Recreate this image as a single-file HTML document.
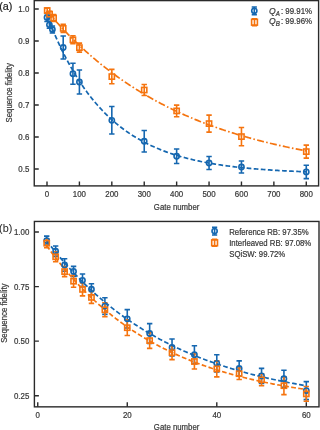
<!DOCTYPE html>
<html><head><meta charset="utf-8"><style>
html,body{margin:0;padding:0;background:#fff;width:320px;height:430px;overflow:hidden;}
svg{display:block;will-change:transform;font-family:"Liberation Sans",sans-serif;}
</style></head><body>
<svg width="320" height="430" viewBox="0 0 320 430">
<rect width="320" height="430" fill="#fff"/>
<rect x="34.25" y="0.60" width="284.35" height="185.30" fill="none" stroke="#2a2a2a" stroke-width="1.4"/>
<path d="M47.00,185.90V181.40M79.41,185.90V181.40M111.82,185.90V181.40M144.23,185.90V181.40M176.64,185.90V181.40M209.05,185.90V181.40M241.46,185.90V181.40M273.87,185.90V181.40M306.28,185.90V181.40M34.25,9.00H38.75M34.25,41.00H38.75M34.25,73.00H38.75M34.25,105.00H38.75M34.25,137.00H38.75M34.25,169.00H38.75" stroke="#2a2a2a" stroke-width="1.4" fill="none"/>
<path d="M47.00,13.50V21.50M44.30,13.50H49.70M44.30,21.50H49.70" stroke="#1567b0" stroke-width="1.6" fill="none"/>
<path d="M49.40,21.30V28.30M46.70,21.30H52.10M46.70,28.30H52.10" stroke="#1567b0" stroke-width="1.6" fill="none"/>
<path d="M52.40,26.00V33.00M49.70,26.00H55.10M49.70,33.00H55.10" stroke="#1567b0" stroke-width="1.6" fill="none"/>
<path d="M63.20,36.00V59.00M60.50,36.00H65.91M60.50,59.00H65.91" stroke="#1567b0" stroke-width="1.6" fill="none"/>
<path d="M72.93,63.25V84.25M70.23,63.25H75.63M70.23,84.25H75.63" stroke="#1567b0" stroke-width="1.6" fill="none"/>
<path d="M79.41,70.00V94.00M76.71,70.00H82.11M76.71,94.00H82.11" stroke="#1567b0" stroke-width="1.6" fill="none"/>
<path d="M111.82,106.55V134.05M109.12,106.55H114.52M109.12,134.05H114.52" stroke="#1567b0" stroke-width="1.6" fill="none"/>
<path d="M144.23,130.45V152.05M141.53,130.45H146.93M141.53,152.05H146.93" stroke="#1567b0" stroke-width="1.6" fill="none"/>
<path d="M176.64,148.95V163.55M173.94,148.95H179.34M173.94,163.55H179.34" stroke="#1567b0" stroke-width="1.6" fill="none"/>
<path d="M209.05,156.50V169.50M206.35,156.50H211.75M206.35,169.50H211.75" stroke="#1567b0" stroke-width="1.6" fill="none"/>
<path d="M241.46,161.00V173.00M238.76,161.00H244.16M238.76,173.00H244.16" stroke="#1567b0" stroke-width="1.6" fill="none"/>
<path d="M306.28,165.20V178.60M303.58,165.20H308.98M303.58,178.60H308.98" stroke="#1567b0" stroke-width="1.6" fill="none"/>
<path d="M47.20,8.00V13.00M44.50,8.00H49.90M44.50,13.00H49.90" stroke="#f5740f" stroke-width="1.6" fill="none"/>
<path d="M49.60,11.20V17.20M46.90,11.20H52.30M46.90,17.20H52.30" stroke="#f5740f" stroke-width="1.6" fill="none"/>
<path d="M53.60,14.50V21.50M50.90,14.50H56.30M50.90,21.50H56.30" stroke="#f5740f" stroke-width="1.6" fill="none"/>
<path d="M63.20,24.40V32.40M60.50,24.40H65.91M60.50,32.40H65.91" stroke="#f5740f" stroke-width="1.6" fill="none"/>
<path d="M72.93,35.80V43.80M70.23,35.80H75.63M70.23,43.80H75.63" stroke="#f5740f" stroke-width="1.6" fill="none"/>
<path d="M79.41,43.10V52.10M76.71,43.10H82.11M76.71,52.10H82.11" stroke="#f5740f" stroke-width="1.6" fill="none"/>
<path d="M111.82,69.40V83.80M109.12,69.40H114.52M109.12,83.80H114.52" stroke="#f5740f" stroke-width="1.6" fill="none"/>
<path d="M144.23,84.50V95.50M141.53,84.50H146.93M141.53,95.50H146.93" stroke="#f5740f" stroke-width="1.6" fill="none"/>
<path d="M176.64,105.10V116.70M173.94,105.10H179.34M173.94,116.70H179.34" stroke="#f5740f" stroke-width="1.6" fill="none"/>
<path d="M209.05,115.10V132.10M206.35,115.10H211.75M206.35,132.10H211.75" stroke="#f5740f" stroke-width="1.6" fill="none"/>
<path d="M241.46,127.50V145.70M238.76,127.50H244.16M238.76,145.70H244.16" stroke="#f5740f" stroke-width="1.6" fill="none"/>
<path d="M306.28,145.10V158.10M303.58,145.10H308.98M303.58,158.10H308.98" stroke="#f5740f" stroke-width="1.6" fill="none"/>
<path d="M47.00,15.40 L48.30,18.78 L49.61,22.09 L50.91,25.33 L52.21,28.49 L53.51,31.59 L54.82,34.63 L56.12,37.59 L57.42,40.50 L58.73,43.34 L60.03,46.13 L61.33,48.85 L62.63,51.52 L63.94,54.13 L65.24,56.68 L66.54,59.18 L67.85,61.62 L69.15,64.02 L70.45,66.36 L71.76,68.65 L73.06,70.90 L74.36,73.09 L75.66,75.24 L76.97,77.35 L78.27,79.40 L79.57,81.42 L80.88,83.39 L82.18,85.32 L83.48,87.21 L84.78,89.06 L86.09,90.87 L87.39,92.64 L88.69,94.37 L90.00,96.07 L91.30,97.73 L92.60,99.35 L93.90,100.94 L95.21,102.50 L96.51,104.02 L97.81,105.51 L99.12,106.97 L100.42,108.39 L101.72,109.79 L103.03,111.16 L104.33,112.50 L105.63,113.81 L106.93,115.09 L108.24,116.34 L109.54,117.57 L110.84,118.77 L112.15,119.95 L113.45,121.10 L114.75,122.23 L116.05,123.33 L117.36,124.41 L118.66,125.46 L119.96,126.50 L121.27,127.51 L122.57,128.50 L123.87,129.47 L125.17,130.41 L126.48,131.34 L127.78,132.25 L129.08,133.14 L130.39,134.01 L131.69,134.86 L132.99,135.69 L134.30,136.51 L135.60,137.31 L136.90,138.09 L138.20,138.85 L139.51,139.60 L140.81,140.33 L142.11,141.05 L143.42,141.75 L144.72,142.44 L146.02,143.11 L147.32,143.77 L148.63,144.41 L149.93,145.04 L151.23,145.65 L152.54,146.26 L153.84,146.85 L155.14,147.43 L156.44,147.99 L157.75,148.54 L159.05,149.09 L160.35,149.62 L161.66,150.13 L162.96,150.64 L164.26,151.14 L165.57,151.63 L166.87,152.10 L168.17,152.57 L169.47,153.02 L170.78,153.47 L172.08,153.91 L173.38,154.33 L174.69,154.75 L175.99,155.16 L177.29,155.56 L178.59,155.95 L179.90,156.34 L181.20,156.71 L182.50,157.08 L183.81,157.44 L185.11,157.79 L186.41,158.14 L187.71,158.47 L189.02,158.80 L190.32,159.13 L191.62,159.44 L192.93,159.75 L194.23,160.05 L195.53,160.35 L196.84,160.64 L198.14,160.92 L199.44,161.20 L200.74,161.47 L202.05,161.74 L203.35,162.00 L204.65,162.26 L205.96,162.51 L207.26,162.75 L208.56,162.99 L209.86,163.22 L211.17,163.45 L212.47,163.67 L213.77,163.89 L215.08,164.11 L216.38,164.32 L217.68,164.52 L218.98,164.72 L220.29,164.92 L221.59,165.11 L222.89,165.30 L224.20,165.49 L225.50,165.67 L226.80,165.84 L228.11,166.02 L229.41,166.19 L230.71,166.35 L232.01,166.51 L233.32,166.67 L234.62,166.83 L235.92,166.98 L237.23,167.13 L238.53,167.27 L239.83,167.42 L241.13,167.56 L242.44,167.69 L243.74,167.83 L245.04,167.96 L246.35,168.09 L247.65,168.21 L248.95,168.33 L250.25,168.45 L251.56,168.57 L252.86,168.69 L254.16,168.80 L255.47,168.91 L256.77,169.02 L258.07,169.12 L259.38,169.22 L260.68,169.32 L261.98,169.42 L263.28,169.52 L264.59,169.61 L265.89,169.71 L267.19,169.80 L268.50,169.89 L269.80,169.97 L271.10,170.06 L272.40,170.14 L273.71,170.22 L275.01,170.30 L276.31,170.38 L277.62,170.46 L278.92,170.53 L280.22,170.60 L281.52,170.68 L282.83,170.75 L284.13,170.81 L285.43,170.88 L286.74,170.95 L288.04,171.01 L289.34,171.07 L290.65,171.14 L291.95,171.20 L293.25,171.25 L294.55,171.31 L295.86,171.37 L297.16,171.42 L298.46,171.48 L299.77,171.53 L301.07,171.58 L302.37,171.63 L303.67,171.68 L304.98,171.73 L306.28,171.78" stroke="#1567b0" stroke-width="1.7" fill="none" stroke-dasharray="4.7,2.4"/>
<path d="M47.00,11.04 L48.30,12.58 L49.61,14.11 L50.91,15.62 L52.21,17.12 L53.51,18.61 L54.82,20.08 L56.12,21.53 L57.42,22.98 L58.73,24.41 L60.03,25.82 L61.33,27.23 L62.63,28.62 L63.94,29.99 L65.24,31.36 L66.54,32.71 L67.85,34.05 L69.15,35.38 L70.45,36.69 L71.76,37.99 L73.06,39.28 L74.36,40.56 L75.66,41.83 L76.97,43.08 L78.27,44.33 L79.57,45.56 L80.88,46.78 L82.18,47.99 L83.48,49.18 L84.78,50.37 L86.09,51.54 L87.39,52.71 L88.69,53.86 L90.00,55.00 L91.30,56.14 L92.60,57.26 L93.90,58.37 L95.21,59.47 L96.51,60.56 L97.81,61.64 L99.12,62.71 L100.42,63.77 L101.72,64.82 L103.03,65.86 L104.33,66.89 L105.63,67.91 L106.93,68.92 L108.24,69.93 L109.54,70.92 L110.84,71.90 L112.15,72.88 L113.45,73.84 L114.75,74.80 L116.05,75.75 L117.36,76.69 L118.66,77.62 L119.96,78.54 L121.27,79.45 L122.57,80.36 L123.87,81.25 L125.17,82.14 L126.48,83.02 L127.78,83.89 L129.08,84.75 L130.39,85.61 L131.69,86.46 L132.99,87.30 L134.30,88.13 L135.60,88.95 L136.90,89.77 L138.20,90.58 L139.51,91.38 L140.81,92.17 L142.11,92.96 L143.42,93.73 L144.72,94.51 L146.02,95.27 L147.32,96.03 L148.63,96.78 L149.93,97.52 L151.23,98.26 L152.54,98.99 L153.84,99.71 L155.14,100.43 L156.44,101.13 L157.75,101.84 L159.05,102.53 L160.35,103.22 L161.66,103.91 L162.96,104.58 L164.26,105.25 L165.57,105.92 L166.87,106.58 L168.17,107.23 L169.47,107.87 L170.78,108.51 L172.08,109.15 L173.38,109.78 L174.69,110.40 L175.99,111.02 L177.29,111.63 L178.59,112.23 L179.90,112.83 L181.20,113.42 L182.50,114.01 L183.81,114.60 L185.11,115.17 L186.41,115.75 L187.71,116.31 L189.02,116.87 L190.32,117.43 L191.62,117.98 L192.93,118.53 L194.23,119.07 L195.53,119.60 L196.84,120.13 L198.14,120.66 L199.44,121.18 L200.74,121.70 L202.05,122.21 L203.35,122.72 L204.65,123.22 L205.96,123.71 L207.26,124.21 L208.56,124.70 L209.86,125.18 L211.17,125.66 L212.47,126.13 L213.77,126.60 L215.08,127.07 L216.38,127.53 L217.68,127.99 L218.98,128.44 L220.29,128.89 L221.59,129.33 L222.89,129.77 L224.20,130.21 L225.50,130.64 L226.80,131.07 L228.11,131.49 L229.41,131.91 L230.71,132.33 L232.01,132.74 L233.32,133.15 L234.62,133.56 L235.92,133.96 L237.23,134.35 L238.53,134.75 L239.83,135.14 L241.13,135.52 L242.44,135.91 L243.74,136.29 L245.04,136.66 L246.35,137.03 L247.65,137.40 L248.95,137.77 L250.25,138.13 L251.56,138.49 L252.86,138.84 L254.16,139.20 L255.47,139.54 L256.77,139.89 L258.07,140.23 L259.38,140.57 L260.68,140.91 L261.98,141.24 L263.28,141.57 L264.59,141.89 L265.89,142.22 L267.19,142.54 L268.50,142.86 L269.80,143.17 L271.10,143.48 L272.40,143.79 L273.71,144.10 L275.01,144.40 L276.31,144.70 L277.62,145.00 L278.92,145.29 L280.22,145.58 L281.52,145.87 L282.83,146.16 L284.13,146.44 L285.43,146.72 L286.74,147.00 L288.04,147.28 L289.34,147.55 L290.65,147.82 L291.95,148.09 L293.25,148.36 L294.55,148.62 L295.86,148.88 L297.16,149.14 L298.46,149.40 L299.77,149.65 L301.07,149.90 L302.37,150.15 L303.67,150.40 L304.98,150.64 L306.28,150.88" stroke="#f5740f" stroke-width="1.7" fill="none" stroke-dasharray="7,2.3,1.6,2.3"/>
<circle cx="47.00" cy="17.50" r="2.60" stroke="#1567b0" stroke-width="1.6" fill="none"/>
<circle cx="49.40" cy="24.80" r="2.60" stroke="#1567b0" stroke-width="1.6" fill="none"/>
<circle cx="52.40" cy="29.50" r="2.60" stroke="#1567b0" stroke-width="1.6" fill="none"/>
<circle cx="63.20" cy="47.50" r="2.60" stroke="#1567b0" stroke-width="1.6" fill="none"/>
<circle cx="72.93" cy="73.75" r="2.60" stroke="#1567b0" stroke-width="1.6" fill="none"/>
<circle cx="79.41" cy="82.00" r="2.60" stroke="#1567b0" stroke-width="1.6" fill="none"/>
<circle cx="111.82" cy="120.30" r="2.60" stroke="#1567b0" stroke-width="1.6" fill="none"/>
<circle cx="144.23" cy="141.25" r="2.60" stroke="#1567b0" stroke-width="1.6" fill="none"/>
<circle cx="176.64" cy="156.25" r="2.60" stroke="#1567b0" stroke-width="1.6" fill="none"/>
<circle cx="209.05" cy="163.00" r="2.60" stroke="#1567b0" stroke-width="1.6" fill="none"/>
<circle cx="241.46" cy="167.00" r="2.60" stroke="#1567b0" stroke-width="1.6" fill="none"/>
<circle cx="306.28" cy="171.90" r="2.60" stroke="#1567b0" stroke-width="1.6" fill="none"/>
<rect x="44.60" y="7.90" width="5.20" height="5.20" stroke="#f5740f" stroke-width="1.6" fill="none"/>
<rect x="47.00" y="11.60" width="5.20" height="5.20" stroke="#f5740f" stroke-width="1.6" fill="none"/>
<rect x="51.00" y="15.40" width="5.20" height="5.20" stroke="#f5740f" stroke-width="1.6" fill="none"/>
<rect x="60.60" y="25.80" width="5.20" height="5.20" stroke="#f5740f" stroke-width="1.6" fill="none"/>
<rect x="70.33" y="37.20" width="5.20" height="5.20" stroke="#f5740f" stroke-width="1.6" fill="none"/>
<rect x="76.81" y="45.00" width="5.20" height="5.20" stroke="#f5740f" stroke-width="1.6" fill="none"/>
<rect x="109.22" y="74.00" width="5.20" height="5.20" stroke="#f5740f" stroke-width="1.6" fill="none"/>
<rect x="141.63" y="87.40" width="5.20" height="5.20" stroke="#f5740f" stroke-width="1.6" fill="none"/>
<rect x="174.04" y="108.30" width="5.20" height="5.20" stroke="#f5740f" stroke-width="1.6" fill="none"/>
<rect x="206.45" y="121.00" width="5.20" height="5.20" stroke="#f5740f" stroke-width="1.6" fill="none"/>
<rect x="238.86" y="134.00" width="5.20" height="5.20" stroke="#f5740f" stroke-width="1.6" fill="none"/>
<rect x="303.68" y="149.00" width="5.20" height="5.20" stroke="#f5740f" stroke-width="1.6" fill="none"/>
<rect x="34.40" y="221.45" width="284.60" height="185.40" fill="none" stroke="#2a2a2a" stroke-width="1.4"/>
<path d="M37.75,406.85V402.35M127.27,406.85V402.35M216.79,406.85V402.35M306.31,406.85V402.35M34.40,232.00H38.90M34.40,286.58H38.90M34.40,341.17H38.90M34.40,395.75H38.90" stroke="#2a2a2a" stroke-width="1.4" fill="none"/>
<path d="M46.70,236.10V245.10M44.00,236.10H49.40M44.00,245.10H49.40" stroke="#1567b0" stroke-width="1.6" fill="none"/>
<path d="M55.65,246.00V256.40M52.95,246.00H58.35M52.95,256.40H58.35" stroke="#1567b0" stroke-width="1.6" fill="none"/>
<path d="M64.61,258.70V271.30M61.91,258.70H67.31M61.91,271.30H67.31" stroke="#1567b0" stroke-width="1.6" fill="none"/>
<path d="M73.56,266.40V276.40M70.86,266.40H76.26M70.86,276.40H76.26" stroke="#1567b0" stroke-width="1.6" fill="none"/>
<path d="M82.51,274.00V286.60M79.81,274.00H85.21M79.81,286.60H85.21" stroke="#1567b0" stroke-width="1.6" fill="none"/>
<path d="M91.46,283.70V294.70M88.76,283.70H94.16M88.76,294.70H94.16" stroke="#1567b0" stroke-width="1.6" fill="none"/>
<path d="M104.89,297.80V314.40M102.19,297.80H107.59M102.19,314.40H107.59" stroke="#1567b0" stroke-width="1.6" fill="none"/>
<path d="M127.27,309.60V328.00M124.57,309.60H129.97M124.57,328.00H129.97" stroke="#1567b0" stroke-width="1.6" fill="none"/>
<path d="M149.65,323.60V343.40M146.95,323.60H152.35M146.95,343.40H152.35" stroke="#1567b0" stroke-width="1.6" fill="none"/>
<path d="M172.03,339.00V356.00M169.33,339.00H174.73M169.33,356.00H174.73" stroke="#1567b0" stroke-width="1.6" fill="none"/>
<path d="M194.41,345.80V363.60M191.71,345.80H197.11M191.71,363.60H197.11" stroke="#1567b0" stroke-width="1.6" fill="none"/>
<path d="M216.79,354.70V371.90M214.09,354.70H219.49M214.09,371.90H219.49" stroke="#1567b0" stroke-width="1.6" fill="none"/>
<path d="M239.17,360.90V376.10M236.47,360.90H241.87M236.47,376.10H241.87" stroke="#1567b0" stroke-width="1.6" fill="none"/>
<path d="M261.55,368.40V383.40M258.85,368.40H264.25M258.85,383.40H264.25" stroke="#1567b0" stroke-width="1.6" fill="none"/>
<path d="M283.93,370.20V387.20M281.23,370.20H286.63M281.23,387.20H286.63" stroke="#1567b0" stroke-width="1.6" fill="none"/>
<path d="M306.31,381.60V399.60M303.61,381.60H309.01M303.61,399.60H309.01" stroke="#1567b0" stroke-width="1.6" fill="none"/>
<path d="M46.70,238.70V247.70M44.00,238.70H49.40M44.00,247.70H49.40" stroke="#f5740f" stroke-width="1.6" fill="none"/>
<path d="M55.65,251.80V261.80M52.95,251.80H58.35M52.95,261.80H58.35" stroke="#f5740f" stroke-width="1.6" fill="none"/>
<path d="M64.61,266.60V276.60M61.91,266.60H67.31M61.91,276.60H67.31" stroke="#f5740f" stroke-width="1.6" fill="none"/>
<path d="M73.56,275.20V287.20M70.86,275.20H76.26M70.86,287.20H76.26" stroke="#f5740f" stroke-width="1.6" fill="none"/>
<path d="M82.51,282.90V295.90M79.81,282.90H85.21M79.81,295.90H85.21" stroke="#f5740f" stroke-width="1.6" fill="none"/>
<path d="M91.46,291.40V303.40M88.76,291.40H94.16M88.76,303.40H94.16" stroke="#f5740f" stroke-width="1.6" fill="none"/>
<path d="M104.89,302.80V316.80M102.19,302.80H107.59M102.19,316.80H107.59" stroke="#f5740f" stroke-width="1.6" fill="none"/>
<path d="M127.27,319.90V335.50M124.57,319.90H129.97M124.57,335.50H129.97" stroke="#f5740f" stroke-width="1.6" fill="none"/>
<path d="M149.65,332.80V348.40M146.95,332.80H152.35M146.95,348.40H152.35" stroke="#f5740f" stroke-width="1.6" fill="none"/>
<path d="M172.03,345.80V359.60M169.33,345.80H174.73M169.33,359.60H174.73" stroke="#f5740f" stroke-width="1.6" fill="none"/>
<path d="M194.41,354.00V369.00M191.71,354.00H197.11M191.71,369.00H197.11" stroke="#f5740f" stroke-width="1.6" fill="none"/>
<path d="M216.79,360.90V376.90M214.09,360.90H219.49M214.09,376.90H219.49" stroke="#f5740f" stroke-width="1.6" fill="none"/>
<path d="M239.17,367.95V379.45M236.47,367.95H241.87M236.47,379.45H241.87" stroke="#f5740f" stroke-width="1.6" fill="none"/>
<path d="M261.55,373.80V385.80M258.85,373.80H264.25M258.85,385.80H264.25" stroke="#f5740f" stroke-width="1.6" fill="none"/>
<path d="M283.93,376.80V394.60M281.23,376.80H286.63M281.23,394.60H286.63" stroke="#f5740f" stroke-width="1.6" fill="none"/>
<path d="M306.31,386.50V401.30M303.61,386.50H309.01M303.61,401.30H309.01" stroke="#f5740f" stroke-width="1.6" fill="none"/>
<path d="M46.70,240.73 L48.01,242.45 L49.31,244.14 L50.62,245.82 L51.92,247.48 L53.22,249.12 L54.53,250.75 L55.83,252.35 L57.14,253.95 L58.44,255.52 L59.75,257.08 L61.05,258.63 L62.36,260.15 L63.66,261.67 L64.97,263.16 L66.27,264.64 L67.58,266.11 L68.88,267.56 L70.18,268.99 L71.49,270.42 L72.79,271.82 L74.10,273.21 L75.40,274.59 L76.71,275.95 L78.01,277.30 L79.32,278.64 L80.62,279.96 L81.93,281.27 L83.23,282.56 L84.53,283.84 L85.84,285.11 L87.14,286.37 L88.45,287.61 L89.75,288.84 L91.06,290.05 L92.36,291.26 L93.67,292.45 L94.97,293.63 L96.28,294.80 L97.58,295.95 L98.88,297.09 L100.19,298.23 L101.49,299.35 L102.80,300.45 L104.10,301.55 L105.41,302.64 L106.71,303.71 L108.02,304.77 L109.32,305.83 L110.63,306.87 L111.93,307.90 L113.23,308.92 L114.54,309.93 L115.84,310.93 L117.15,311.92 L118.45,312.89 L119.76,313.86 L121.06,314.82 L122.37,315.77 L123.67,316.71 L124.98,317.64 L126.28,318.56 L127.58,319.47 L128.89,320.37 L130.19,321.26 L131.50,322.14 L132.80,323.02 L134.11,323.88 L135.41,324.74 L136.72,325.58 L138.02,326.42 L139.33,327.25 L140.63,328.07 L141.94,328.88 L143.24,329.69 L144.54,330.48 L145.85,331.27 L147.15,332.05 L148.46,332.82 L149.76,333.59 L151.07,334.34 L152.37,335.09 L153.68,335.83 L154.98,336.56 L156.29,337.29 L157.59,338.00 L158.89,338.71 L160.20,339.42 L161.50,340.11 L162.81,340.80 L164.11,341.48 L165.42,342.16 L166.72,342.82 L168.03,343.48 L169.33,344.14 L170.64,344.78 L171.94,345.42 L173.24,346.06 L174.55,346.69 L175.85,347.31 L177.16,347.92 L178.46,348.53 L179.77,349.13 L181.07,349.72 L182.38,350.31 L183.68,350.90 L184.99,351.47 L186.29,352.05 L187.59,352.61 L188.90,353.17 L190.20,353.72 L191.51,354.27 L192.81,354.82 L194.12,355.35 L195.42,355.88 L196.73,356.41 L198.03,356.93 L199.34,357.44 L200.64,357.95 L201.94,358.46 L203.25,358.96 L204.55,359.45 L205.86,359.94 L207.16,360.43 L208.47,360.90 L209.77,361.38 L211.08,361.85 L212.38,362.31 L213.69,362.77 L214.99,363.23 L216.30,363.68 L217.60,364.12 L218.90,364.56 L220.21,365.00 L221.51,365.43 L222.82,365.86 L224.12,366.28 L225.43,366.70 L226.73,367.12 L228.04,367.53 L229.34,367.93 L230.65,368.33 L231.95,368.73 L233.25,369.13 L234.56,369.51 L235.86,369.90 L237.17,370.28 L238.47,370.66 L239.78,371.03 L241.08,371.40 L242.39,371.77 L243.69,372.13 L245.00,372.49 L246.30,372.84 L247.60,373.20 L248.91,373.54 L250.21,373.89 L251.52,374.23 L252.82,374.56 L254.13,374.90 L255.43,375.23 L256.74,375.55 L258.04,375.88 L259.35,376.20 L260.65,376.51 L261.95,376.83 L263.26,377.14 L264.56,377.44 L265.87,377.75 L267.17,378.05 L268.48,378.35 L269.78,378.64 L271.09,378.93 L272.39,379.22 L273.70,379.51 L275.00,379.79 L276.31,380.07 L277.61,380.35 L278.91,380.62 L280.22,380.89 L281.52,381.16 L282.83,381.42 L284.13,381.69 L285.44,381.95 L286.74,382.20 L288.05,382.46 L289.35,382.71 L290.66,382.96 L291.96,383.21 L293.26,383.45 L294.57,383.69 L295.87,383.93 L297.18,384.17 L298.48,384.40 L299.79,384.64 L301.09,384.87 L302.40,385.09 L303.70,385.32 L305.01,385.54 L306.31,385.76" stroke="#1567b0" stroke-width="1.7" fill="none" stroke-dasharray="4.7,2.4"/>
<path d="M46.70,245.74 L48.01,247.56 L49.31,249.36 L50.62,251.14 L51.92,252.90 L53.22,254.64 L54.53,256.36 L55.83,258.06 L57.14,259.74 L58.44,261.40 L59.75,263.05 L61.05,264.67 L62.36,266.28 L63.66,267.87 L64.97,269.44 L66.27,270.99 L67.58,272.52 L68.88,274.04 L70.18,275.54 L71.49,277.02 L72.79,278.49 L74.10,279.94 L75.40,281.37 L76.71,282.78 L78.01,284.18 L79.32,285.57 L80.62,286.94 L81.93,288.29 L83.23,289.63 L84.53,290.95 L85.84,292.26 L87.14,293.55 L88.45,294.83 L89.75,296.09 L91.06,297.34 L92.36,298.57 L93.67,299.80 L94.97,301.00 L96.28,302.20 L97.58,303.37 L98.88,304.54 L100.19,305.69 L101.49,306.83 L102.80,307.96 L104.10,309.07 L105.41,310.18 L106.71,311.26 L108.02,312.34 L109.32,313.41 L110.63,314.46 L111.93,315.50 L113.23,316.53 L114.54,317.54 L115.84,318.55 L117.15,319.54 L118.45,320.52 L119.76,321.50 L121.06,322.46 L122.37,323.40 L123.67,324.34 L124.98,325.27 L126.28,326.19 L127.58,327.10 L128.89,327.99 L130.19,328.88 L131.50,329.75 L132.80,330.62 L134.11,331.48 L135.41,332.32 L136.72,333.16 L138.02,333.99 L139.33,334.81 L140.63,335.62 L141.94,336.42 L143.24,337.21 L144.54,337.99 L145.85,338.76 L147.15,339.52 L148.46,340.28 L149.76,341.03 L151.07,341.76 L152.37,342.49 L153.68,343.22 L154.98,343.93 L156.29,344.63 L157.59,345.33 L158.89,346.02 L160.20,346.70 L161.50,347.38 L162.81,348.04 L164.11,348.70 L165.42,349.35 L166.72,350.00 L168.03,350.63 L169.33,351.26 L170.64,351.88 L171.94,352.50 L173.24,353.11 L174.55,353.71 L175.85,354.30 L177.16,354.89 L178.46,355.47 L179.77,356.04 L181.07,356.61 L182.38,357.17 L183.68,357.73 L184.99,358.27 L186.29,358.82 L187.59,359.35 L188.90,359.88 L190.20,360.41 L191.51,360.92 L192.81,361.44 L194.12,361.94 L195.42,362.44 L196.73,362.94 L198.03,363.43 L199.34,363.91 L200.64,364.39 L201.94,364.86 L203.25,365.33 L204.55,365.79 L205.86,366.25 L207.16,366.70 L208.47,367.15 L209.77,367.59 L211.08,368.02 L212.38,368.45 L213.69,368.88 L214.99,369.30 L216.30,369.72 L217.60,370.13 L218.90,370.54 L220.21,370.94 L221.51,371.34 L222.82,371.73 L224.12,372.12 L225.43,372.51 L226.73,372.89 L228.04,373.26 L229.34,373.64 L230.65,374.00 L231.95,374.37 L233.25,374.73 L234.56,375.08 L235.86,375.43 L237.17,375.78 L238.47,376.12 L239.78,376.46 L241.08,376.80 L242.39,377.13 L243.69,377.46 L245.00,377.78 L246.30,378.10 L247.60,378.42 L248.91,378.73 L250.21,379.04 L251.52,379.35 L252.82,379.65 L254.13,379.95 L255.43,380.25 L256.74,380.54 L258.04,380.83 L259.35,381.11 L260.65,381.40 L261.95,381.67 L263.26,381.95 L264.56,382.22 L265.87,382.49 L267.17,382.76 L268.48,383.03 L269.78,383.29 L271.09,383.54 L272.39,383.80 L273.70,384.05 L275.00,384.30 L276.31,384.55 L277.61,384.79 L278.91,385.03 L280.22,385.27 L281.52,385.50 L282.83,385.74 L284.13,385.97 L285.44,386.19 L286.74,386.42 L288.05,386.64 L289.35,386.86 L290.66,387.08 L291.96,387.29 L293.26,387.51 L294.57,387.72 L295.87,387.92 L297.18,388.13 L298.48,388.33 L299.79,388.53 L301.09,388.73 L302.40,388.93 L303.70,389.12 L305.01,389.31 L306.31,389.50" stroke="#f5740f" stroke-width="1.7" fill="none" stroke-dasharray="4.7,2.4"/>
<circle cx="46.70" cy="240.60" r="2.60" stroke="#1567b0" stroke-width="1.6" fill="none"/>
<circle cx="55.65" cy="251.20" r="2.60" stroke="#1567b0" stroke-width="1.6" fill="none"/>
<circle cx="64.61" cy="265.00" r="2.60" stroke="#1567b0" stroke-width="1.6" fill="none"/>
<circle cx="73.56" cy="271.40" r="2.60" stroke="#1567b0" stroke-width="1.6" fill="none"/>
<circle cx="82.51" cy="280.30" r="2.60" stroke="#1567b0" stroke-width="1.6" fill="none"/>
<circle cx="91.46" cy="289.20" r="2.60" stroke="#1567b0" stroke-width="1.6" fill="none"/>
<circle cx="104.89" cy="306.10" r="2.60" stroke="#1567b0" stroke-width="1.6" fill="none"/>
<circle cx="127.27" cy="318.80" r="2.60" stroke="#1567b0" stroke-width="1.6" fill="none"/>
<circle cx="149.65" cy="333.50" r="2.60" stroke="#1567b0" stroke-width="1.6" fill="none"/>
<circle cx="172.03" cy="347.50" r="2.60" stroke="#1567b0" stroke-width="1.6" fill="none"/>
<circle cx="194.41" cy="354.70" r="2.60" stroke="#1567b0" stroke-width="1.6" fill="none"/>
<circle cx="216.79" cy="363.30" r="2.60" stroke="#1567b0" stroke-width="1.6" fill="none"/>
<circle cx="239.17" cy="368.50" r="2.60" stroke="#1567b0" stroke-width="1.6" fill="none"/>
<circle cx="261.55" cy="375.90" r="2.60" stroke="#1567b0" stroke-width="1.6" fill="none"/>
<circle cx="283.93" cy="378.70" r="2.60" stroke="#1567b0" stroke-width="1.6" fill="none"/>
<circle cx="306.31" cy="390.60" r="2.60" stroke="#1567b0" stroke-width="1.6" fill="none"/>
<rect x="44.10" y="240.60" width="5.20" height="5.20" stroke="#f5740f" stroke-width="1.6" fill="none"/>
<rect x="53.05" y="254.20" width="5.20" height="5.20" stroke="#f5740f" stroke-width="1.6" fill="none"/>
<rect x="62.01" y="269.00" width="5.20" height="5.20" stroke="#f5740f" stroke-width="1.6" fill="none"/>
<rect x="70.96" y="278.60" width="5.20" height="5.20" stroke="#f5740f" stroke-width="1.6" fill="none"/>
<rect x="79.91" y="286.80" width="5.20" height="5.20" stroke="#f5740f" stroke-width="1.6" fill="none"/>
<rect x="88.86" y="294.80" width="5.20" height="5.20" stroke="#f5740f" stroke-width="1.6" fill="none"/>
<rect x="102.29" y="307.20" width="5.20" height="5.20" stroke="#f5740f" stroke-width="1.6" fill="none"/>
<rect x="124.67" y="325.10" width="5.20" height="5.20" stroke="#f5740f" stroke-width="1.6" fill="none"/>
<rect x="147.05" y="338.00" width="5.20" height="5.20" stroke="#f5740f" stroke-width="1.6" fill="none"/>
<rect x="169.43" y="350.10" width="5.20" height="5.20" stroke="#f5740f" stroke-width="1.6" fill="none"/>
<rect x="191.81" y="358.90" width="5.20" height="5.20" stroke="#f5740f" stroke-width="1.6" fill="none"/>
<rect x="214.19" y="366.30" width="5.20" height="5.20" stroke="#f5740f" stroke-width="1.6" fill="none"/>
<rect x="236.57" y="371.10" width="5.20" height="5.20" stroke="#f5740f" stroke-width="1.6" fill="none"/>
<rect x="258.95" y="377.20" width="5.20" height="5.20" stroke="#f5740f" stroke-width="1.6" fill="none"/>
<rect x="281.33" y="383.10" width="5.20" height="5.20" stroke="#f5740f" stroke-width="1.6" fill="none"/>
<rect x="303.71" y="391.30" width="5.20" height="5.20" stroke="#f5740f" stroke-width="1.6" fill="none"/>
<path d="M254.30,7.00V14.60M251.70,7.00H256.90M251.70,14.60H256.90" stroke="#1567b0" stroke-width="1.6" fill="none"/>
<circle cx="254.30" cy="10.80" r="2.60" stroke="#1567b0" stroke-width="1.6" fill="none"/>
<path d="M254.50,18.80V25.60M251.90,18.80H257.10M251.90,25.60H257.10" stroke="#f5740f" stroke-width="1.6" fill="none"/>
<rect x="251.60" y="19.30" width="5.80" height="5.80" stroke="#f5740f" stroke-width="1.6" fill="none"/>
<path d="M214.60,227.20V235.00M212.00,227.20H217.20M212.00,235.00H217.20" stroke="#1567b0" stroke-width="1.6" fill="none"/>
<circle cx="214.60" cy="231.10" r="2.60" stroke="#1567b0" stroke-width="1.6" fill="none"/>
<path d="M214.60,239.40V246.20M212.00,239.40H217.20M212.00,246.20H217.20" stroke="#f5740f" stroke-width="1.6" fill="none"/>
<rect x="211.70" y="239.90" width="5.80" height="5.80" stroke="#f5740f" stroke-width="1.6" fill="none"/>
<g font-family="Liberation Sans, sans-serif" fill="#383838" stroke="#383838" stroke-width="0.2"><text transform="translate(47.00,196.90) scale(1.0,1.14)" font-size="7.9" text-anchor="middle" >0</text>
<text transform="translate(79.41,196.90) scale(1.0,1.14)" font-size="7.9" text-anchor="middle" >100</text>
<text transform="translate(111.82,196.90) scale(1.0,1.14)" font-size="7.9" text-anchor="middle" >200</text>
<text transform="translate(144.23,196.90) scale(1.0,1.14)" font-size="7.9" text-anchor="middle" >300</text>
<text transform="translate(176.64,196.90) scale(1.0,1.14)" font-size="7.9" text-anchor="middle" >400</text>
<text transform="translate(209.05,196.90) scale(1.0,1.14)" font-size="7.9" text-anchor="middle" >500</text>
<text transform="translate(241.46,196.90) scale(1.0,1.14)" font-size="7.9" text-anchor="middle" >600</text>
<text transform="translate(273.87,196.90) scale(1.0,1.14)" font-size="7.9" text-anchor="middle" >700</text>
<text transform="translate(306.28,196.90) scale(1.0,1.14)" font-size="7.9" text-anchor="middle" >800</text>
<text transform="translate(29.30,12.30) scale(1.0,1.14)" font-size="7.9" text-anchor="end" >1.0</text>
<text transform="translate(29.30,44.30) scale(1.0,1.14)" font-size="7.9" text-anchor="end" >0.9</text>
<text transform="translate(29.30,76.30) scale(1.0,1.14)" font-size="7.9" text-anchor="end" >0.8</text>
<text transform="translate(29.30,108.30) scale(1.0,1.14)" font-size="7.9" text-anchor="end" >0.7</text>
<text transform="translate(29.30,140.30) scale(1.0,1.14)" font-size="7.9" text-anchor="end" >0.6</text>
<text transform="translate(29.30,172.30) scale(1.0,1.14)" font-size="7.9" text-anchor="end" >0.5</text>
<text transform="translate(176.60,209.50) scale(1.0,1.08)" font-size="7.8" text-anchor="middle" >Gate number</text>
<text transform="translate(12.2,92.8) rotate(-90) scale(1,1.08)" font-size="7.8" text-anchor="middle">Sequence fidelity</text>
<text x="-0.80" y="9.80" font-size="10.8" text-anchor="start" fill="#222" stroke="#222" stroke-width="0.2">(a)</text>
<text transform="translate(37.75,417.70) scale(1.0,1.14)" font-size="7.9" text-anchor="middle" >0</text>
<text transform="translate(127.27,417.70) scale(1.0,1.14)" font-size="7.9" text-anchor="middle" >20</text>
<text transform="translate(216.79,417.70) scale(1.0,1.14)" font-size="7.9" text-anchor="middle" >40</text>
<text transform="translate(306.31,417.70) scale(1.0,1.14)" font-size="7.9" text-anchor="middle" >60</text>
<text transform="translate(29.30,235.30) scale(1.0,1.14)" font-size="7.9" text-anchor="end" >1.00</text>
<text transform="translate(29.30,289.88) scale(1.0,1.14)" font-size="7.9" text-anchor="end" >0.75</text>
<text transform="translate(29.30,344.47) scale(1.0,1.14)" font-size="7.9" text-anchor="end" >0.50</text>
<text transform="translate(29.30,399.05) scale(1.0,1.14)" font-size="7.9" text-anchor="end" >0.25</text>
<text transform="translate(176.60,429.60) scale(1.0,1.08)" font-size="7.8" text-anchor="middle" >Gate number</text>
<text transform="translate(7.4,313.2) rotate(-90) scale(1,1.08)" font-size="7.8" text-anchor="middle">Sequence fidelity</text>
<text x="-0.90" y="231.50" font-size="10.8" text-anchor="start" fill="#2a2a2a" stroke="#2a2a2a" stroke-width="0.05">(b)</text>
<text transform="translate(269.0,13.6) scale(1,1.13)" stroke-width="0.2" font-size="7.9"><tspan font-style="italic" font-size="8.6">Q</tspan><tspan font-size="6.2" dy="1.9" dx="0.2" font-style="italic">A</tspan><tspan dy="-1.9" dx="0.9">: 99.91%</tspan></text>
<text transform="translate(269.0,23.9) scale(1,1.13)" stroke-width="0.2" font-size="7.9"><tspan font-style="italic" font-size="8.6">Q</tspan><tspan font-size="6.2" dy="1.9" dx="0.2" font-style="italic">B</tspan><tspan dy="-1.9" dx="0.9">: 99.96%</tspan></text>
<text transform="translate(229.20,234.60) scale(0.985,1.1)" font-size="7.9" text-anchor="start" >Reference RB: 97.35%</text>
<text transform="translate(229.20,245.80) scale(0.985,1.1)" font-size="7.9" text-anchor="start" >Interleaved RB: 97.08%</text>
<text transform="translate(229.20,257.00) scale(0.985,1.1)" font-size="7.9" text-anchor="start" >SQiSW: 99.72%</text></g>
</svg>
</body></html>
